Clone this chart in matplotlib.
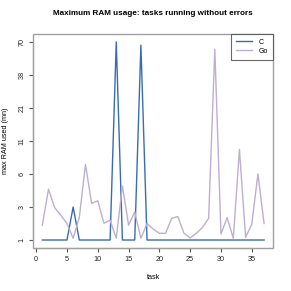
import numpy as np
import matplotlib
matplotlib.use("Agg")
import matplotlib.pyplot as plt
from matplotlib.patches import Rectangle

plt.rcParams['font.family'] = ['Liberation Sans', 'DejaVu Sans']

# data (max RAM per task)
tasks = np.arange(1, 38)
c_ram = [1, 1, 1, 1, 1, 3, 1, 1, 1, 1, 1, 1, 70, 1, 1, 1, 66, 1, 1, 1,
         1, 1, 1, 1, 1, 1, 1, 1, 1, 1, 1, 1, 1, 1, 1, 1, 1]
go_ram = [1.64, 4.36, 2.94, 2.28, 1.73, 1.06, 2.11, 7.15, 3.24, 3.42,
          1.75, 1.93, 1.06, 4.67, 1.64, 2.54, 1.06, 1.73, 1.44, 1.25,
          1.25, 2.06, 2.18, 1.25, 1.07, 1.25, 1.52, 2.06, 61.2, 1.22,
          2.11, 1.06, 9.4, 1.09, 1.69, 6.0, 1.73]
y_ticks = [1, 3, 6, 11, 21, 38, 70]
x_ticks = [0, 5, 10, 15, 20, 25, 30, 35]

lt = np.log(y_ticks)
pos = np.arange(len(y_ticks), dtype=float)


def fwd(y):
    ly = np.log(np.clip(np.asarray(y, dtype=float), 1e-9, None))
    out = np.interp(ly, lt, pos)
    out = np.where(ly < lt[0], (ly - lt[0]) / (lt[1] - lt[0]), out)
    out = np.where(ly > lt[-1], pos[-1] + (ly - lt[-1]) / (lt[-1] - lt[-2]), out)
    return out


def inv(u):
    u = np.asarray(u, dtype=float)
    out = np.exp(np.interp(u, pos, lt))
    out = np.where(u < 0, np.exp(lt[0] + u * (lt[1] - lt[0])), out)
    out = np.where(u > pos[-1], np.exp(lt[-1] + (u - pos[-1]) * (lt[-1] - lt[-2])), out)
    return out


fig = plt.figure(figsize=(2.91, 2.91), dpi=100)
ax = fig.add_axes([0.115, 0.148, 0.823, 0.735])
ax.set_yscale('function', functions=(fwd, inv))

ax.plot(tasks, c_ram, color='#386CB0', lw=1.0, label='C')
ax.plot(tasks, go_ram, color='#BEAED4', lw=1.0, label='Go')

ax.set_xlim(-0.44, 38.44)
ax.set_ylim(inv(-0.24), inv(6.24))
ax.set_xticks(x_ticks)
ax.set_xticklabels([str(t) for t in x_ticks])
ax.set_yticks(y_ticks)
ax.set_yticklabels([str(t) for t in y_ticks], rotation=90, va='center')
ax.minorticks_off()

for s in ['top', 'right']:
    ax.spines[s].set_visible(False)
ax.spines['left'].set_bounds(1, 70)
ax.spines['bottom'].set_bounds(0, 35)
for s in ['left', 'bottom']:
    ax.spines[s].set_color('#555555')
    ax.spines[s].set_linewidth(0.8)
ax.add_patch(Rectangle((0, 0), 1, 1, transform=ax.transAxes, fill=False,
                       edgecolor='#a0a0a0', lw=1.0, zorder=5, clip_on=False))
ax.tick_params(length=3, width=0.8, color='#555555', labelsize=5.2, pad=2.5,
               labelcolor='#222222')

ax.set_xlabel('task', fontsize=5.2, labelpad=8)
ax.set_ylabel('max RAM used (mn)', fontsize=5.2, labelpad=7)
ax.set_title('Maximum RAM usage: tasks running without errors',
             fontsize=5.9, fontweight='bold', pad=14)

leg = ax.legend(loc='upper right', fontsize=5.0, frameon=True, fancybox=False,
                borderaxespad=0, handlelength=2.4, borderpad=0.7, labelspacing=0.25,
                handletextpad=0.9)
leg.get_frame().set_edgecolor('#444444')
leg.get_frame().set_linewidth(0.8)

fig.savefig('out.png', dpi=100)
